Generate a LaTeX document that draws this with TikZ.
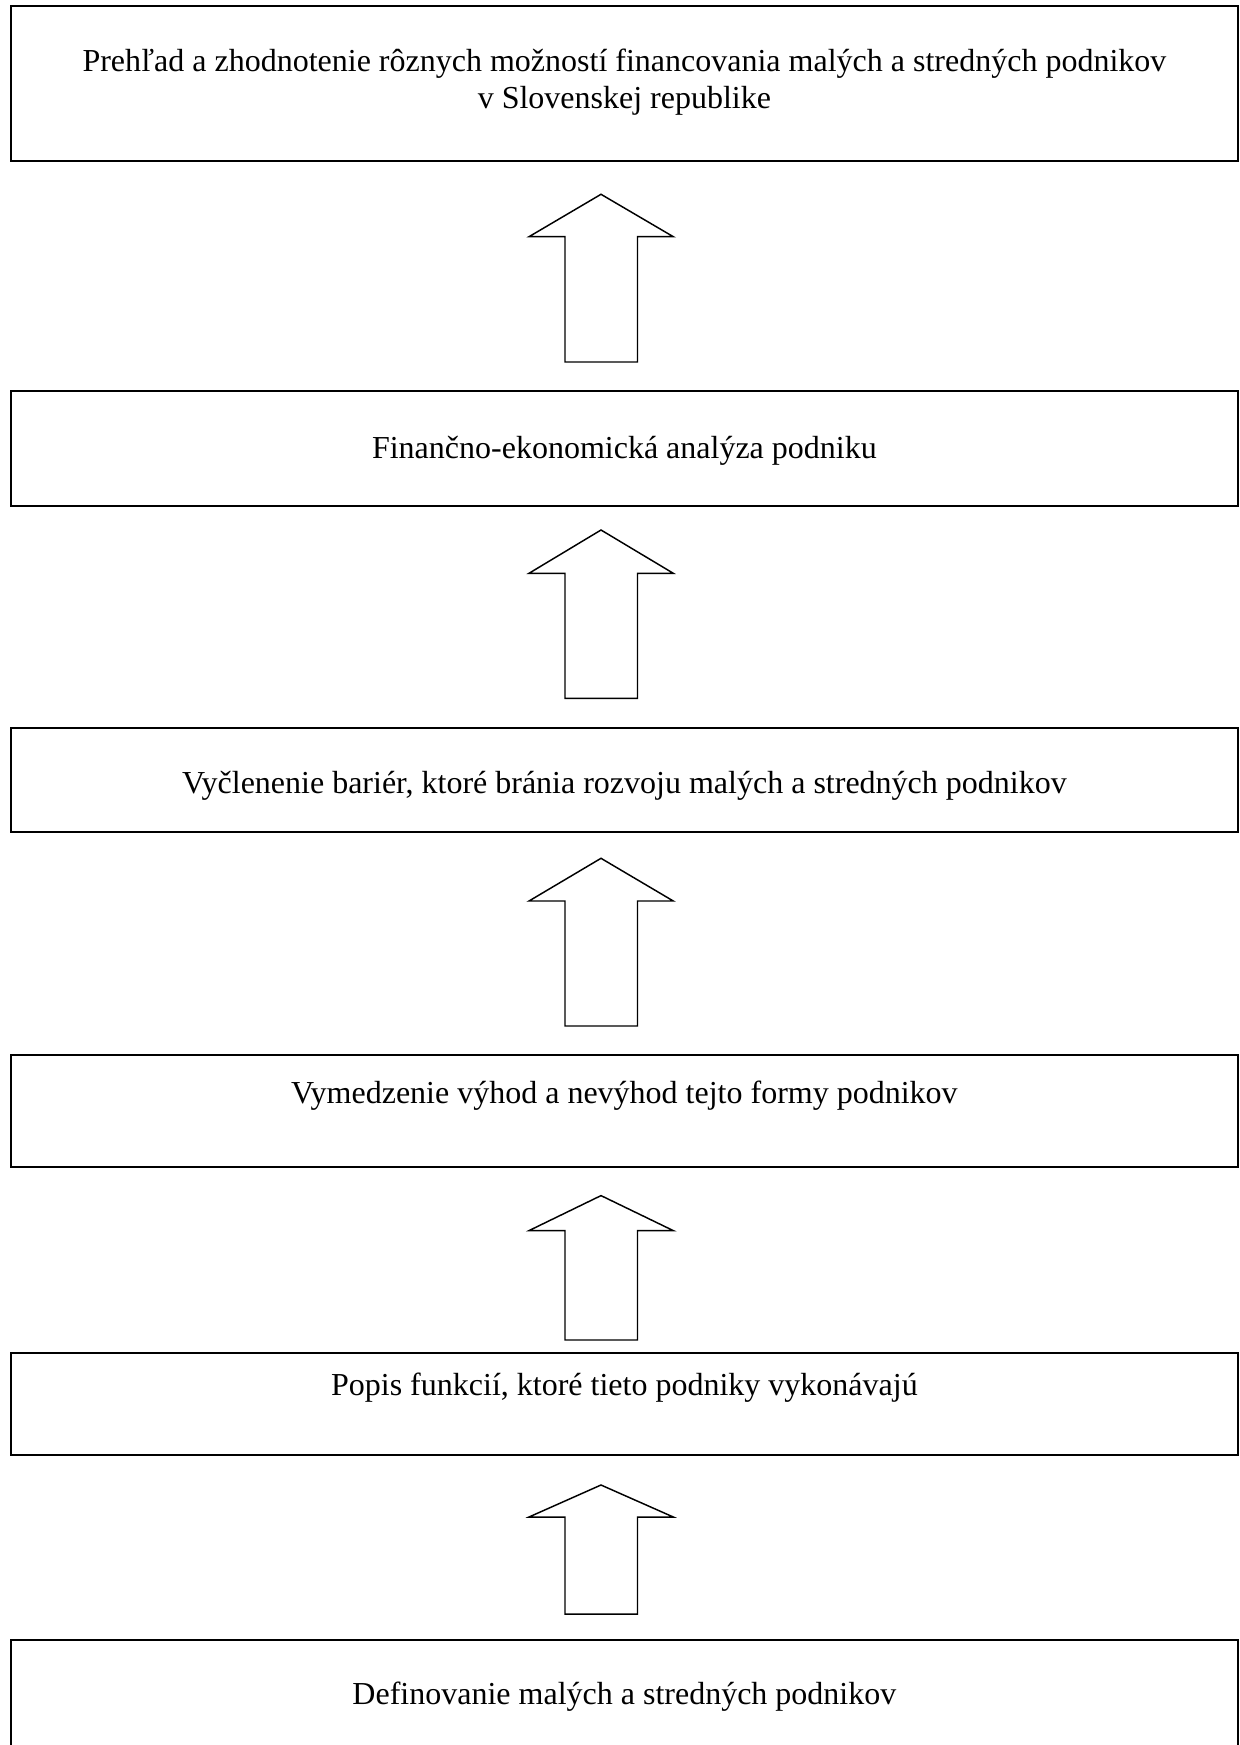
\documentclass[tikz,border=0pt]{standalone}
\usepackage{fontspec}
\setmainfont{Liberation Serif}
\begin{document}
\begin{tikzpicture}[x=0.75pt,y=-0.75pt,
  boxline/.style={draw=black,line width=1.5pt},
  arrowline/.style={draw=black,line width=1.1pt,line join=miter,fill=white},
  label/.style={inner sep=0pt,outer sep=0pt,anchor=base,font=\fontsize{24pt}{27.5pt}\selectfont},
]
\useasboundingbox (0,0) rectangle (1239,1745);
\fill[white] (0,0) rectangle (1239,1745);
\newcommand{\mybox}[3]{% name, top, bottom
  \path[boxline] (11,#2) rectangle (1237.7,#3);
  \coordinate (#1top) at (624.4,#2);
  \coordinate (#1bot) at (624.4,#3);
}
\newcommand{\blockarrow}[4]{% name, tip y, base y, bottom y
  \path[arrowline] (601,#2) -- (673.3,#3) -- (637.5,#3) -- (637.5,#4) -- (565,#4) -- (565,#3) -- (529,#3) -- cycle;
  \coordinate (#1) at (601,#2);
}
% boxes
\mybox{b1}{5.7}{161}
\mybox{b2}{391}{505.7}
\mybox{b3}{728.3}{831.7}
\mybox{b4}{1055}{1166.7}
\mybox{b5}{1352.7}{1455}
\mybox{b6}{1640}{1760}
% texts
\node[label] (t1a) at (624.4,71.7) {Prehľad a zhodnotenie rôznych možností financovania malých a stredných podnikov};
\node[label] (t1b) at (624.4,108.3) {v Slovenskej republike};
\node[label] (t2) at (624.4,458.7) {Finančno-ekonomická analýza podniku};
\node[label] (t3) at (624.4,793.3) {Vyčlenenie bariér, ktoré bránia rozvoju malých a stredných podnikov};
\node[label] (t4) at (624.4,1103.3) {Vymedzenie výhod a nevýhod tejto formy podnikov};
\node[label] (t5) at (624.4,1395) {Popis funkcií, ktoré tieto podniky vykonávajú};
\node[label] (t6) at (624.4,1704) {Definovanie malých a stredných podnikov};
% block arrows
\blockarrow{a1}{194.3}{236.7}{362}
\blockarrow{a2}{530}{573.3}{698.3}
\blockarrow{a3}{858.3}{901}{1026}
\blockarrow{a4}{1195.6}{1230.6}{1340}
\blockarrow{a5}{1485}{1517}{1614}
\end{tikzpicture}
\end{document}
